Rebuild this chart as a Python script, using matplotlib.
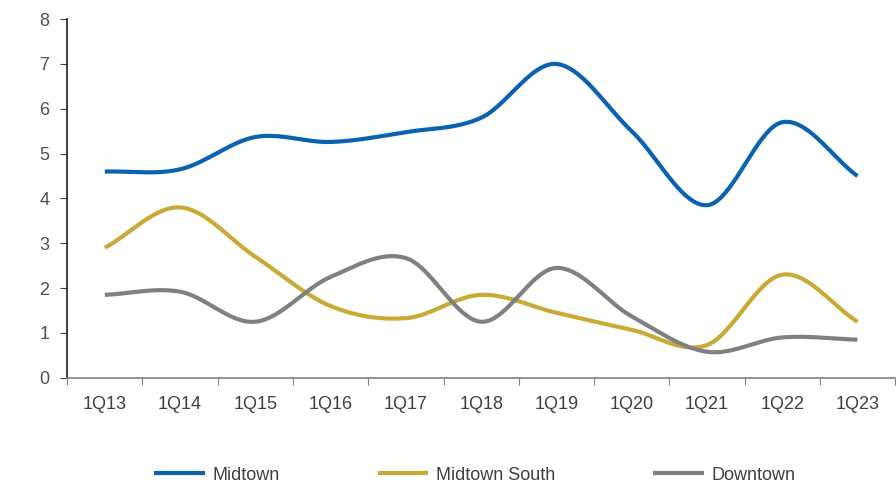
import numpy as np
import matplotlib
matplotlib.use("Agg")
import matplotlib.pyplot as plt
from matplotlib.ticker import FixedLocator, NullFormatter, FixedFormatter

plt.rcParams['font.family'] = ['Liberation Sans', 'DejaVu Sans']

categories = ["1Q13", "1Q14", "1Q15", "1Q16", "1Q17", "1Q18", "1Q19", "1Q20", "1Q21", "1Q22", "1Q23"]
midtown = [4.6, 4.65, 5.37, 5.26, 5.48, 5.8, 7.0, 5.5, 3.85, 5.7, 4.5]
midtown_south = [2.9, 3.8, 2.7, 1.6, 1.33, 1.85, 1.45, 1.07, 0.73, 2.3, 1.25]
downtown = [1.85, 1.92, 1.25, 2.25, 2.67, 1.25, 2.45, 1.37, 0.58, 0.9, 0.85]
yticks = [0, 1, 2, 3, 4, 5, 6, 7, 8]

series = [("Midtown", midtown, "#0A62B0"),
          ("Midtown South", midtown_south, "#C9AA35"),
          ("Downtown", downtown, "#808080")]


def catmull_rom(x, y, n=40):
    """Excel-style smoothed line rendering through the given points."""
    x = np.asarray(x, float)
    y = np.asarray(y, float)
    px = np.concatenate([[2 * x[0] - x[1]], x, [2 * x[-1] - x[-2]]])
    py = np.concatenate([[2 * y[0] - y[1]], y, [2 * y[-1] - y[-2]]])
    xs, ys = [], []
    t = np.linspace(0, 1, n, endpoint=False)
    for i in range(1, len(px) - 2):
        p0, p1, p2, p3 = (np.array([px[j], py[j]]) for j in range(i - 1, i + 3))
        tt = t[:, None]
        pts = 0.5 * ((2 * p1) + (-p0 + p2) * tt + (2 * p0 - 5 * p1 + 4 * p2 - p3) * tt ** 2
                     + (-p0 + 3 * p1 - 3 * p2 + p3) * tt ** 3)
        xs.extend(pts[:, 0]); ys.extend(pts[:, 1])
    xs.append(x[-1]); ys.append(y[-1])
    return np.array(xs), np.array(ys)


fig = plt.figure(figsize=(8.96, 4.90), dpi=100)
ax = fig.add_axes([0.075, 0.229, 0.924, 0.732])

xpos = np.arange(len(categories))
for name, vals, col in series:
    sx, sy = catmull_rom(xpos, vals)
    ax.plot(sx, sy, color=col, lw=3.0, label=name, solid_capstyle='butt')

ax.set_xlim(-0.5, len(categories) - 0.5)
ax.set_ylim(0, 8)
ax.set_yticks(yticks)
ax.set_yticklabels([str(v) for v in yticks])

ax.xaxis.set_major_locator(FixedLocator(np.arange(-0.5, len(categories), 1.0)))
ax.xaxis.set_major_formatter(NullFormatter())
ax.xaxis.set_minor_locator(FixedLocator(xpos))
ax.xaxis.set_minor_formatter(FixedFormatter(categories))
ax.tick_params(axis='x', which='major', length=5, color='#808080', direction='out')
ax.tick_params(axis='x', which='minor', length=0, pad=13, labelsize=13, labelcolor='#404040')
ax.tick_params(axis='y', length=5, color='#404040', labelsize=13, labelcolor='#505050', pad=8)

for s in ['top', 'right']:
    ax.spines[s].set_visible(False)
ax.spines['left'].set_color('#202020')
ax.spines['left'].set_linewidth(1.2)
ax.spines['bottom'].set_color('#808080')
ax.spines['bottom'].set_linewidth(1.2)

fig.legend(loc='center', bbox_to_anchor=(0.53, 0.03), ncol=3, frameon=False,
           fontsize=13, handlelength=2.8, handletextpad=0.45, columnspacing=5.4,
           labelcolor='#404040')

fig.savefig("out.png", dpi=100, facecolor='white')
